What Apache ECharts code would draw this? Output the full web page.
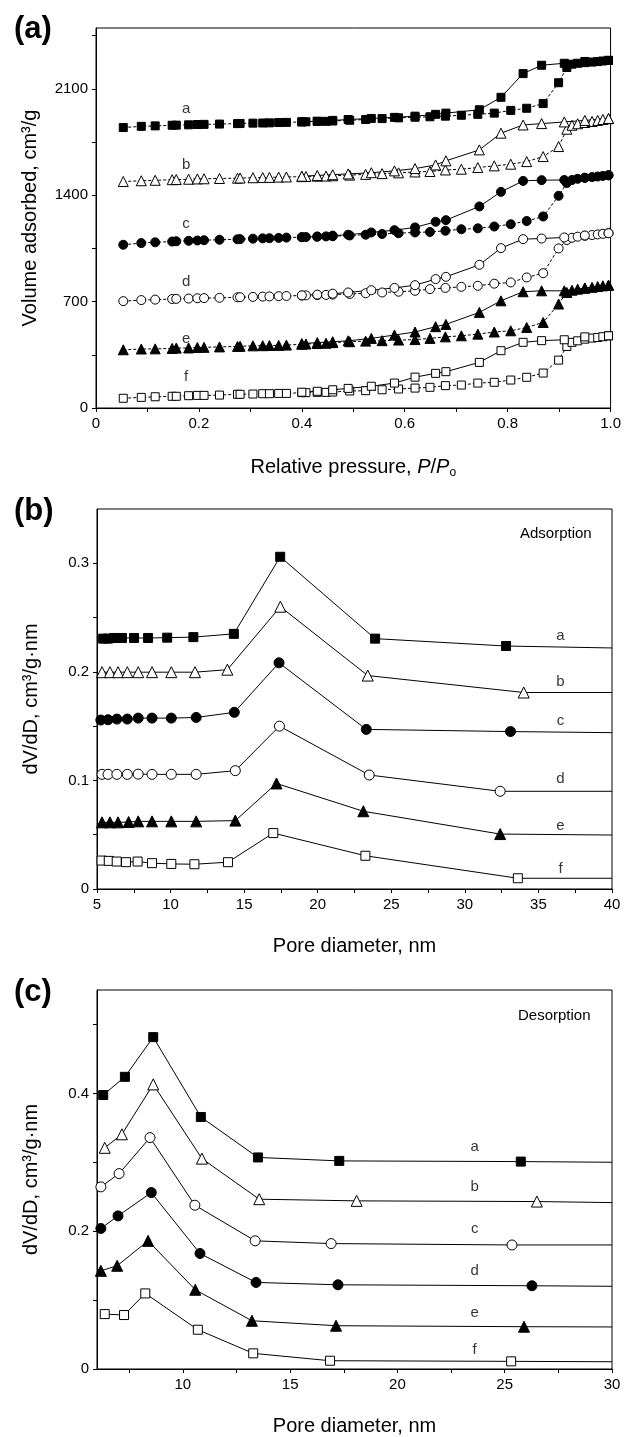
<!DOCTYPE html>
<html>
<head>
<meta charset="utf-8">
<title>N2 isotherms and pore size distributions</title>
<script src="https://cdn.jsdelivr.net/npm/echarts@6.0.0/dist/echarts.min.js"></script>
<style>html, body { margin: 0; padding: 0; background: #fff; }</style>
</head>
<body>
<div id="main" style="width:624px;height:1437px;"></div>
<script>
var FONT = '"Liberation Sans", Arial, sans-serif';

// ---- (a) isotherms: relative pressure points
var adsP = [0.053, 0.088, 0.115, 0.148, 0.156, 0.18, 0.197, 0.21, 0.24, 0.275, 0.28, 0.305, 0.324, 0.337, 0.355,
    0.37, 0.40, 0.408, 0.43, 0.447, 0.46, 0.493, 0.524, 0.556, 0.588, 0.62, 0.649, 0.679, 0.71, 0.742,
    0.774, 0.806, 0.837, 0.869, 0.899, 0.915, 0.925, 0.936, 0.95, 0.964, 0.975, 0.985, 0.996];
var desP = [0.996, 0.95, 0.91, 0.866, 0.83, 0.787, 0.745, 0.68, 0.66, 0.62, 0.58, 0.535, 0.49, 0.46, 0.43, 0.40];

// adsorption branch, cm3/g
var adsA = [1845, 1853, 1856, 1860, 1861, 1863, 1865, 1866, 1868, 1871, 1872, 1874, 1875, 1876, 1878, 1879, 1882, 1883, 1885, 1886,
    1888, 1893, 1898, 1904, 1909, 1913, 1916, 1920, 1926, 1932, 1940, 1958, 1972, 2003, 2140, 2240, 2262, 2268, 2272, 2276, 2279, 2283, 2287];
var adsB = [1490, 1495, 1498, 1502, 1503, 1505, 1507, 1508, 1510, 1512, 1513, 1515, 1516, 1517, 1519, 1520, 1522, 1523, 1525, 1526,
    1528, 1532, 1537, 1542, 1547, 1553, 1556, 1566, 1571, 1582, 1593, 1604, 1621, 1654, 1720, 1834, 1860, 1870, 1878, 1885, 1892, 1898, 1904];
var adsC = [1074, 1085, 1090, 1095, 1097, 1100, 1102, 1104, 1107, 1110, 1111, 1114, 1116, 1117, 1119, 1121, 1124, 1125, 1127, 1129,
    1130, 1135, 1140, 1145, 1150, 1155, 1158, 1166, 1176, 1182, 1194, 1209, 1230, 1260, 1396, 1480, 1500, 1508, 1514, 1519, 1523, 1527, 1531];
var adsD = [703, 710, 713, 717, 718, 720, 722, 723, 725, 728, 729, 731, 733, 734, 736, 737, 740, 741, 743, 744,
    746, 750, 755, 760, 765, 771, 782, 790, 797, 804, 818, 826, 859, 887, 1050, 1105, 1120, 1127, 1133, 1138, 1142, 1146, 1150];
var adsE = [383, 388, 389, 392, 394, 395, 398, 399, 402, 405, 406, 409, 410, 411, 412, 414, 419, 421, 424, 426,
    430, 436, 440, 443, 447, 450, 458, 468, 475, 486, 500, 508, 530, 563, 684, 760, 775, 782, 788, 794, 799, 804, 808];
var adsF = [64, 70, 74, 77, 77, 81, 83, 83, 85, 90, 90, 92, 94, 94, 96, 96, 101, 101, 103, 103,
    105, 112, 114, 120, 125, 131, 136, 147, 151, 164, 169, 184, 202, 230, 315, 405, 432, 442, 453, 460, 464, 469, 475];

// desorption branch, cm3/g
var desA = [2287, 2280, 2268, 2255, 2200, 2044, 1962, 1940, 1932, 1920, 1912, 1905, 1898, 1892, 1887, 1883];
var desB = [1904, 1892, 1882, 1871, 1862, 1808, 1698, 1626, 1599, 1575, 1560, 1548, 1540, 1535, 1530, 1525];
var desC = [1531, 1515, 1500, 1499, 1494, 1422, 1326, 1236, 1225, 1188, 1170, 1155, 1140, 1134, 1128, 1124];
var desD = [1150, 1135, 1122, 1115, 1111, 1052, 942, 863, 848, 808, 790, 775, 760, 752, 746, 741];
var desE = [808, 790, 771, 771, 765, 705, 629, 550, 535, 500, 480, 458, 442, 436, 430, 424];
var desF = [475, 468, 449, 443, 432, 377, 300, 239, 228, 203, 164, 143, 129, 120, 110, 104];

var isoNames = ['a', 'b', 'c', 'd', 'e', 'f'];
var isoNameX = 0.175;
var isoNameY = [1965, 1597, 1209, 828, 454, 204];

// ---- (b) adsorption PSD [pore diameter nm, dV/dD]
var psdAdsA = [[5.42, 0.2306], [5.75, 0.2306], [6.16, 0.2312], [6.7, 0.2312], [7.52, 0.2312], [8.47, 0.2312], [9.77, 0.2315], [11.55, 0.232], [14.3, 0.235], [17.45, 0.306], [23.9, 0.2306], [32.8, 0.2238]];
var psdAdsB = [[5.34, 0.1997], [5.88, 0.1997], [6.43, 0.1997], [7.06, 0.1997], [7.8, 0.1997], [8.74, 0.1997], [10.05, 0.1997], [11.66, 0.1997], [13.86, 0.202], [17.46, 0.26], [23.4, 0.1966], [34.0, 0.181]];
var psdAdsC = [[5.26, 0.1556], [5.75, 0.1559], [6.35, 0.1565], [7.06, 0.1565], [7.8, 0.1574], [8.74, 0.1574], [10.05, 0.1574], [11.74, 0.158], [14.33, 0.1627], [17.37, 0.2083], [23.3, 0.147], [33.1, 0.145]];
var psdAdsD = [[5.34, 0.1056], [5.75, 0.1056], [6.35, 0.1056], [7.06, 0.1056], [7.8, 0.1058], [8.74, 0.1056], [10.05, 0.1056], [11.74, 0.1056], [14.4, 0.109], [17.4, 0.150], [23.5, 0.105], [32.4, 0.090]];
var psdAdsE = [[5.34, 0.0614], [5.88, 0.0614], [6.43, 0.0614], [7.15, 0.0617], [7.8, 0.0623], [8.74, 0.0623], [10.05, 0.0623], [11.74, 0.0623], [14.4, 0.063], [17.2, 0.0972], [23.1, 0.0716], [32.4, 0.0506]];
var psdAdsF = [[5.31, 0.0262], [5.8, 0.0259], [6.34, 0.0253], [6.97, 0.0247], [7.76, 0.0253], [8.74, 0.0238], [10.05, 0.0231], [11.62, 0.0228], [13.9, 0.0247], [16.98, 0.0515], [23.24, 0.0306], [33.6, 0.0099]];
var psdAdsTail = [0.222, 0.181, 0.144, 0.090, 0.0497, 0.0099];   // value where each line meets x = 40
var psdAdsNameX = 36.5;
var psdAdsNameY = [0.233, 0.191, 0.155, 0.101, 0.058, 0.0185];

// ---- (c) desorption PSD
var psdDesA = [[6.29, 0.3976], [7.3, 0.424], [8.62, 0.4816], [10.84, 0.3657], [13.5, 0.307], [17.29, 0.302], [25.75, 0.301]];
var psdDesB = [[6.36, 0.321], [7.16, 0.3406], [8.62, 0.413], [10.89, 0.3053], [13.56, 0.2464], [18.1, 0.244], [26.5, 0.243]];
var psdDesC = [[6.18, 0.2643], [7.03, 0.2836], [8.47, 0.3358], [10.56, 0.2377], [13.37, 0.186], [16.91, 0.182], [25.34, 0.180]];
var psdDesD = [[6.18, 0.2039], [6.98, 0.2222], [8.53, 0.256], [10.8, 0.1676], [13.41, 0.1256], [17.23, 0.1222], [26.27, 0.1208]];
var psdDesE = [[6.18, 0.1425], [6.94, 0.1498], [8.38, 0.186], [10.58, 0.115], [13.22, 0.070], [17.14, 0.0628], [25.9, 0.0614]];
var psdDesF = [[6.36, 0.0797], [7.26, 0.0783], [8.25, 0.1097], [10.7, 0.057], [13.28, 0.0227], [16.86, 0.012], [25.3, 0.0111]];
var psdDesTail = [0.300, 0.2415, 0.180, 0.120, 0.061, 0.0105];   // value where each line meets x = 30
var psdDesNameX = 23.6;
var psdDesNameY = [0.323, 0.265, 0.204, 0.143, 0.081, 0.0275];

// ---- ticks and tick labels
var ticksAx = [0, 0.1, 0.2, 0.3, 0.4, 0.5, 0.6, 0.7, 0.8, 0.9, 1.0];
var labelsAx = [0, 0.2, 0.4, 0.6, 0.8, 1.0];
var ticksAy = [0, 350, 700, 1050, 1400, 1750, 2100, 2450];
var labelsAy = [0, 700, 1400, 2100];
var ticksBx = [5, 7.5, 10, 12.5, 15, 17.5, 20, 22.5, 25, 27.5, 30, 32.5, 35, 37.5, 40];
var labelsBx = [5, 10, 15, 20, 25, 30, 35, 40];
var ticksBy = [0, 0.05, 0.1, 0.15, 0.2, 0.25, 0.3];
var labelsBy = [0, 0.1, 0.2, 0.3];
var ticksCx = [7.5, 10, 12.5, 15, 17.5, 20, 22.5, 25, 27.5, 30];
var labelsCx = [10, 15, 20, 25, 30];
var ticksCy = [0, 0.1, 0.2, 0.3, 0.4, 0.5];
var labelsCy = [0, 0.2, 0.4];

// markers a..f: filled square, open triangle, filled circle, open circle, filled triangle, open square
var markAB = [['rect', '#000'], ['triangle', '#fff'], ['circle', '#000'], ['circle', '#fff'], ['triangle', '#000'], ['rect', '#fff']];
// in (c) the circles swap: c is open, d is filled
var markC = [['rect', '#000'], ['triangle', '#fff'], ['circle', '#fff'], ['circle', '#000'], ['triangle', '#000'], ['rect', '#fff']];

function zip(xs, ys) {
    return xs.map(function (x, i) { return [x, ys[i]]; });
}
function symSize(shape, base) {
    if (shape === 'rect') return base - 1;
    if (shape === 'triangle') return base + 1;
    return base;
}

function lineSeries(idx, data, mark, base, dash) {
    return {
        type: 'line',
        xAxisIndex: idx,
        yAxisIndex: idx,
        data: data,
        symbol: mark[0],
        symbolSize: symSize(mark[0], base),
        itemStyle: { color: mark[1], borderColor: '#000', borderWidth: 1, opacity: 1 },
        lineStyle: { color: '#000', width: 1, type: dash || 'solid' },
        silent: true,
        z: 2
    };
}

function nameSeries(idx, x, ys) {
    return {
        type: 'scatter',
        xAxisIndex: idx,
        yAxisIndex: idx,
        symbolSize: 1,
        itemStyle: { color: 'rgba(0,0,0,0)' },
        data: ys.map(function (y, i) { return { value: [x, y], name: isoNames[i] }; }),
        label: { show: true, position: 'inside', formatter: '{b}', color: '#000', fontSize: 15, fontFamily: FONT },
        silent: true,
        z: 3
    };
}

function valueAxis(idx, min, max, ticks, labels, fmt, extra) {
    var ax = {
        type: 'value',
        gridIndex: idx,
        min: min,
        max: max,
        axisLine: { show: true, lineStyle: { color: '#000', width: 1 } },
        axisTick: { show: true, inside: false, length: 4, customValues: ticks, lineStyle: { color: '#000' } },
        axisLabel: { customValues: labels, color: '#000', fontSize: 15, fontFamily: FONT, formatter: fmt },
        splitLine: { show: false },
        nameLocation: 'middle',
        nameTextStyle: { color: '#000', fontSize: 20, fontFamily: FONT }
    };
    for (var k in extra) ax[k] = extra[k];
    return ax;
}

function fmtDec(v) { return v === 0 ? '0' : String(v); }
function fmtOne(v) { return v === 0 ? '0' : v.toFixed(1); }

var isoAds = [adsA, adsB, adsC, adsD, adsE, adsF];
var isoDes = [desA, desB, desC, desD, desE, desF];
var psdAds = [psdAdsA, psdAdsB, psdAdsC, psdAdsD, psdAdsE, psdAdsF];
var psdDes = [psdDesA, psdDesB, psdDesC, psdDesD, psdDesE, psdDesF];

var series = [];
for (var i = 0; i < 6; i++) {
    series.push(lineSeries(0, zip(adsP, isoAds[i]), markAB[i], 9, [3, 2]));
    series.push(lineSeries(0, zip(desP, isoDes[i]), markAB[i], 9));
}
for (var i = 0; i < 6; i++) {
    var d = psdAds[i].slice();
    d.push({ value: [40, psdAdsTail[i]], symbol: 'none' });
    series.push(lineSeries(1, d, markAB[i], 10));
}
for (var i = 0; i < 6; i++) {
    var d2 = psdDes[i].slice();
    d2.push({ value: [30, psdDesTail[i]], symbol: 'none' });
    series.push(lineSeries(2, d2, markC[i], 10));
}
series.push(nameSeries(0, isoNameX, isoNameY));
series.push(nameSeries(1, psdAdsNameX, psdAdsNameY));
series.push(nameSeries(2, psdDesNameX, psdDesNameY));

var gridBase = { show: true, borderColor: '#000', borderWidth: 1, backgroundColor: 'transparent' };
function grid(left, top) {
    return Object.assign({ left: left, top: top, width: 515, height: 380 }, gridBase);
}

var sub = {
    n: { fontSize: 20, fontFamily: FONT, color: '#000', lineHeight: 24, verticalAlign: 'middle' },
    i: { fontSize: 20, fontFamily: FONT, color: '#000', fontStyle: 'italic', lineHeight: 24, verticalAlign: 'middle' },
    s: { fontSize: 12, fontFamily: FONT, color: '#000', lineHeight: 12, verticalAlign: 'bottom' }
};

var myChart = echarts.init(document.getElementById('main'), null, { renderer: 'canvas' });
var option = {
    backgroundColor: '#fff',
    animation: false,
    grid: [grid(96, 28), grid(97, 509), grid(97, 990)],
    xAxis: [
        valueAxis(0, 0, 1, ticksAx, labelsAx, fmtOne, {
            name: '{n|Relative pressure, }{i|P}{n|/}{i|P}{s|o}', nameGap: 47,
            nameTextStyle: { color: '#000', fontSize: 20, fontFamily: FONT, rich: sub }
        }),
        valueAxis(1, 5, 40, ticksBx, labelsBx, fmtDec, { name: 'Pore diameter, nm', nameGap: 47 }),
        valueAxis(2, 6, 30, ticksCx, labelsCx, fmtDec, { name: 'Pore diameter, nm', nameGap: 47 })
    ],
    yAxis: [
        valueAxis(0, 0, 2500, ticksAy, labelsAy, fmtDec, { name: 'Volume adsorbed, cm\u00b3/g', nameGap: 56 }),
        valueAxis(1, 0, 0.35, ticksBy, labelsBy, fmtDec, { name: 'dV/dD, cm\u00b3/g\u00b7nm', nameGap: 56 }),
        valueAxis(2, 0, 0.55, ticksCy, labelsCy, fmtDec, { name: 'dV/dD, cm\u00b3/g\u00b7nm', nameGap: 56 })
    ],
    graphic: [
        { type: 'text', left: 14, top: 14, style: { text: '(a)', font: 'bold 31px "Liberation Sans", Arial', fill: '#000' } },
        { type: 'text', left: 14, top: 496, style: { text: '(b)', font: 'bold 31px "Liberation Sans", Arial', fill: '#000' } },
        { type: 'text', left: 14, top: 977, style: { text: '(c)', font: 'bold 31px "Liberation Sans", Arial', fill: '#000' } },
        { type: 'text', left: 520, top: 526, style: { text: 'Adsorption', font: '15px "Liberation Sans", Arial', fill: '#000' } },
        { type: 'text', left: 518, top: 1008, style: { text: 'Desorption', font: '15px "Liberation Sans", Arial', fill: '#000' } }
    ],
    series: series
};
myChart.setOption(option);
</script>
</body>
</html>
